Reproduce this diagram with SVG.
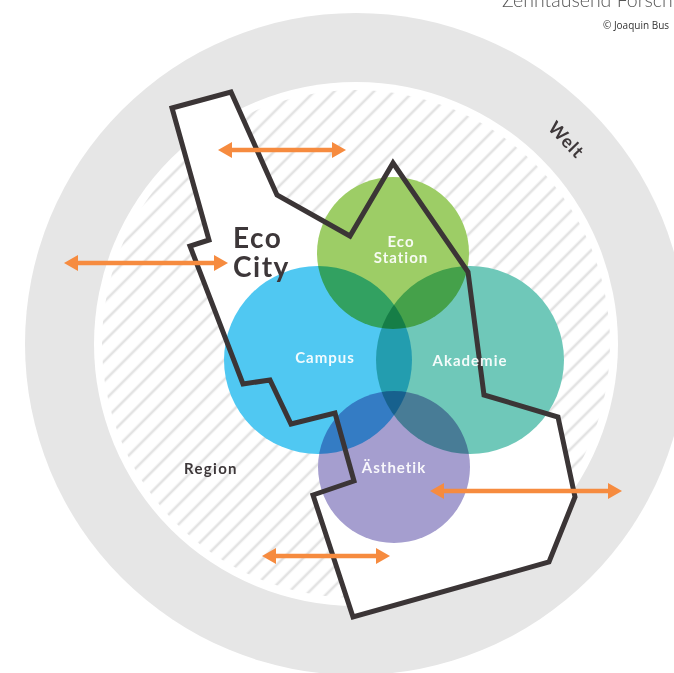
<svg xmlns="http://www.w3.org/2000/svg" width="674" height="673" viewBox="0 0 674 673">
<defs>
<pattern id="hatch" patternUnits="userSpaceOnUse" width="14" height="14" patternTransform="rotate(-45)">
<rect width="14" height="14" fill="#ffffff"/>
<line x1="0" y1="7" x2="14" y2="7" stroke="#e3e3e3" stroke-width="2.6"/>
</pattern>
<marker id="ah" viewBox="0 0 14 16" refX="2" refY="8" markerWidth="14" markerHeight="16" markerUnits="userSpaceOnUse" orient="auto-start-reverse">
<path d="M0,0 L14,8 L0,16 Z" fill="#f68b3f"/>
</marker>
<style>
.circ{mix-blend-mode:multiply}
.lbl{font-family:Lato,"Open Sans",sans-serif;font-weight:700;font-size:15px;fill:#ffffff;fill-opacity:0.92;text-anchor:middle;letter-spacing:1px}
.dark{font-family:Lato,"Open Sans",sans-serif;font-weight:700;fill:#3d3739}
.arrow{stroke:#f68b3f;stroke-width:4.5;fill:none;marker-start:url(#ah);marker-end:url(#ah)}
</style>
</defs>
<rect width="674" height="673" fill="#ffffff"/>
<g id="background">
<circle cx="356" cy="344" r="331" fill="#e6e6e6"/>
<circle cx="356" cy="344" r="262" fill="#ffffff"/>
<circle cx="356" cy="344" r="254" fill="url(#hatch)"/>
</g>
<g id="eco-city-area">
<polygon points="172,108 231,92 277,195 350,236 393,163 468,272 484,395 558,417 575,497 549,562 353,617 313,495 354,481 335,413 291,424 270,380 243,384 190,246 209,240" fill="#ffffff"/>
</g>
<g style="isolation:isolate">
<g id="eco-station"><circle class="circ" cx="393" cy="253" r="76" fill="#9dcd66"/></g>
<g id="campus"><circle class="circ" cx="318" cy="360" r="94" fill="#50c8f2"/></g>
<g id="akademie"><circle class="circ" cx="470" cy="360" r="94" fill="#6fc8b9"/></g>
<g id="aesthetik"><circle class="circ" cx="394" cy="467" r="76" fill="#a59ecf"/></g>
</g>
<g id="eco-city-border">
<polygon points="172,108 231,92 277,195 350,236 393,163 468,272 484,395 558,417 575,497 549,562 353,617 313,495 354,481 335,413 291,424 270,380 243,384 190,246 209,240" fill="none" stroke="#3b3536" stroke-width="5" stroke-linejoin="miter"/>
</g>
<g id="connectors">
<line class="arrow" x1="230" y1="150" x2="334" y2="150"/>
<line class="arrow" x1="76" y1="263" x2="216" y2="263"/>
<line class="arrow" x1="442" y1="491" x2="610" y2="491"/>
<line class="arrow" x1="274" y1="556" x2="378" y2="556"/>
</g>
<g id="labels">
<text class="lbl" x="401" y="247"><tspan x="401">Eco</tspan><tspan x="401" dy="16">Station</tspan></text>
<text class="lbl" x="325" y="363">Campus</text>
<text class="lbl" x="470" y="366">Akademie</text>
<text class="lbl" x="394" y="473">Ästhetik</text>
<text class="dark" x="233" y="248" font-size="28" letter-spacing="1.5"><tspan x="233">Eco</tspan><tspan x="233" dy="29">City</tspan></text>
<text class="dark" x="211" y="474" font-size="15" text-anchor="middle" letter-spacing="1.3">Region</text>
<text class="dark" x="566" y="146" font-size="18" text-anchor="middle" letter-spacing="1" transform="rotate(46 566 140)">Welt</text>
<text x="502" y="7" font-family="Lato,'Open Sans',sans-serif" font-weight="300" font-size="19.5" fill="#555555">Zehntausend Forsch</text>
<text x="603" y="29" font-family="'Open Sans',Lato,sans-serif" font-size="10" fill="#333333">© Joaquin Bus</text>
</g>
</svg>
